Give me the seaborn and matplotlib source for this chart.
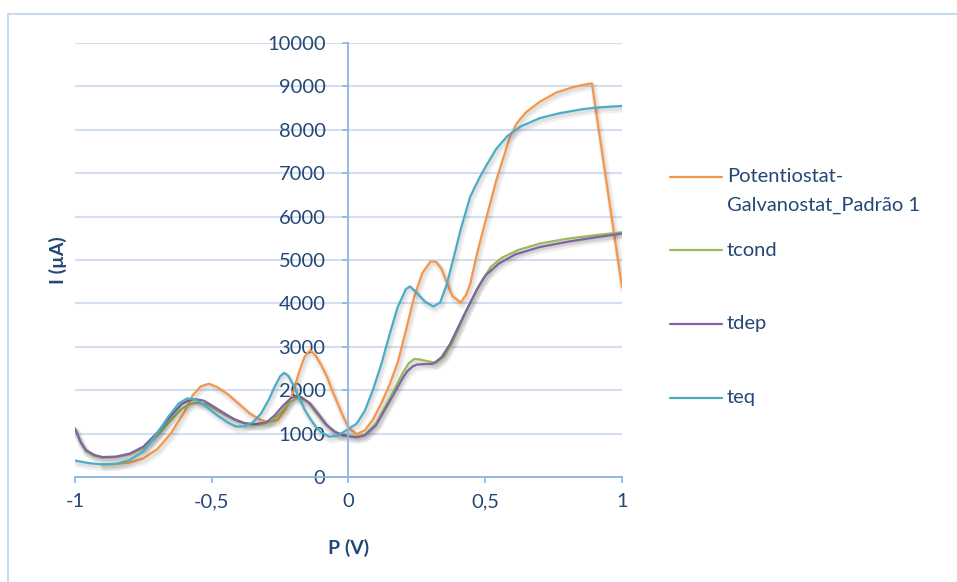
import matplotlib
matplotlib.use("Agg")
import matplotlib.pyplot as plt
import matplotlib.patheffects as pe
from matplotlib.lines import Line2D
from matplotlib.ticker import FuncFormatter
import pandas as pd
import seaborn as sns

# Voltammograms: potential P (V) against current I (µA)
padrao_p = [-0.90, -0.85, -0.80, -0.75, -0.70, -0.65, -0.60, -0.57, -0.54, -0.51,
            -0.48, -0.44, -0.40, -0.36, -0.32, -0.29, -0.26, -0.23, -0.20, -0.18,
            -0.16, -0.14, -0.12, -0.10, -0.08, -0.06, -0.04, -0.02, 0.00, 0.03,
            0.06, 0.09, 0.12, 0.15, 0.18, 0.21, 0.24, 0.27, 0.30, 0.32,
            0.34, 0.36, 0.38, 0.41, 0.43, 0.445, 0.47, 0.49, 0.52, 0.54,
            0.57, 0.59, 0.615, 0.65, 0.70, 0.76, 0.82, 0.86, 0.89, 1.00]
padrao_i = [290, 300, 335, 430, 640, 1000, 1500, 1880, 2090, 2150,
            2070, 1900, 1680, 1460, 1310, 1270, 1310, 1560, 2000, 2440,
            2780, 2920, 2800, 2580, 2330, 2000, 1700, 1400, 1130, 990,
            1080, 1330, 1700, 2130, 2640, 3380, 4150, 4700, 4970, 4960,
            4800, 4470, 4170, 4020, 4200, 4450, 5150, 5640, 6350, 6830,
            7430, 7840, 8150, 8410, 8650, 8860, 8980, 9040, 9070, 4370]

tcond_p = [-1.00, -0.98, -0.96, -0.93, -0.90, -0.85, -0.80, -0.75, -0.70, -0.65,
           -0.61, -0.58, -0.555, -0.52, -0.48, -0.44, -0.40, -0.36, -0.32, -0.28,
           -0.25, -0.22, -0.19, -0.175, -0.15, -0.12, -0.09, -0.06, -0.03, 0.00,
           0.03, 0.06, 0.10, 0.15, 0.20, 0.22, 0.24, 0.26, 0.28, 0.32,
           0.35, 0.38, 0.43, 0.48, 0.52, 0.56, 0.62, 0.70, 0.80, 0.90, 1.00]
tcond_i = [1100, 800, 600, 490, 445, 455, 520, 660, 950, 1310,
           1570, 1680, 1705, 1680, 1530, 1390, 1270, 1210, 1200, 1290,
           1470, 1700, 1810, 1815, 1740, 1500, 1260, 1080, 990, 955,
           935, 980, 1230, 1810, 2420, 2620, 2720, 2710, 2680, 2630,
           2780, 3110, 3820, 4440, 4840, 5050, 5230, 5380, 5490, 5570, 5640]

tdep_p = [-1.00, -0.98, -0.96, -0.93, -0.90, -0.85, -0.80, -0.75, -0.70, -0.65,
          -0.61, -0.58, -0.56, -0.53, -0.50, -0.46, -0.42, -0.38, -0.34, -0.30,
          -0.27, -0.24, -0.21, -0.19, -0.17, -0.14, -0.11, -0.08, -0.05, -0.02,
          0.00, 0.03, 0.06, 0.10, 0.15, 0.20, 0.215, 0.235, 0.25, 0.27, 0.31, 0.34,
          0.37, 0.42, 0.47, 0.50, 0.55, 0.61, 0.70, 0.80, 0.90, 1.00]
tdep_i = [1120, 820, 620, 510, 460, 470, 540, 700, 1020, 1400,
          1680, 1780, 1795, 1760, 1650, 1490, 1340, 1240, 1220, 1260,
          1420, 1640, 1820, 1860, 1830, 1690, 1450, 1200, 1040, 960,
          935, 915, 960, 1190, 1740, 2300, 2440, 2550, 2590, 2600, 2610, 2760,
          3050, 3700, 4330, 4640, 4920, 5130, 5300, 5420, 5520, 5610]

teq_p = [-1.00, -0.95, -0.90, -0.85, -0.80, -0.75, -0.70, -0.66, -0.62, -0.59,
         -0.56, -0.52, -0.48, -0.44, -0.41, -0.38, -0.35, -0.32, -0.29, -0.27,
         -0.25, -0.235, -0.22, -0.20, -0.18, -0.16, -0.14, -0.12, -0.10, -0.07,
         -0.04, -0.02, 0.00, 0.03, 0.06, 0.09, 0.12, 0.15, 0.18, 0.21,
         0.225, 0.25, 0.28, 0.31, 0.335, 0.36, 0.385, 0.41, 0.445, 0.48,
         0.505, 0.54, 0.58, 0.63, 0.70, 0.77, 0.85, 0.90, 0.95, 1.00]
teq_i = [380, 320, 290, 305, 390, 590, 1000, 1380, 1700, 1810,
         1790, 1620, 1420, 1250, 1160, 1170, 1260, 1460, 1800, 2080,
         2320, 2400, 2330, 2100, 1820, 1550, 1340, 1160, 1030, 930,
         950, 1030, 1110, 1230, 1530, 2020, 2600, 3280, 3920, 4330,
         4390, 4240, 4040, 3930, 4020, 4450, 5070, 5700, 6460, 6910,
         7190, 7560, 7850, 8080, 8270, 8380, 8470, 8510, 8530, 8550]

series_names = ["Potentiostat-Galvanostat_Padrão 1", "tcond", "tdep", "teq"]
series_colors = ["#F79646", "#9BBB59", "#8064A2", "#4BACC6"]
y_ticks = list(range(0, 10001, 1000))
x_ticks = [-1, -0.5, 0, 0.5, 1]

TEXT = "#244875"
AXIS = "#8EB4E3"
GRID = "#D3DFF0"
FRAME = "#CCDAEE"

sns.set_theme(style="white")
plt.rcParams["font.family"] = ["Lato", "DejaVu Sans"]
plt.rcParams["axes.unicode_minus"] = False

frames = []
for name, p, i in zip(series_names,
                      [padrao_p, tcond_p, tdep_p, teq_p],
                      [padrao_i, tcond_i, tdep_i, teq_i]):
    frames.append(pd.DataFrame({"P": p, "I": i, "serie": name}))
data = pd.concat(frames, ignore_index=True)

W, H = 957, 582
fig = plt.figure(figsize=(W / 100, H / 100), dpi=100)
ax = fig.add_axes([75 / W, 1 - 477 / H, 547 / W, 434 / H])

sns.lineplot(data=data, x="P", y="I", hue="serie", hue_order=series_names,
             palette=dict(zip(series_names, series_colors)), sort=False,
             estimator=None, legend=False, linewidth=1.6, ax=ax)

# soft drop shadow under each curve
shadow = [pe.SimpleLineShadow(offset=(1.2, -2.2), shadow_color="black",
                              alpha=0.06, linewidth=5),
          pe.SimpleLineShadow(offset=(1.0, -1.8), shadow_color="black",
                              alpha=0.06, linewidth=2.5),
          pe.Normal()]
for line in ax.get_lines():
    line.set_path_effects(shadow)

ax.set_xlim(-1, 1)
ax.set_ylim(0, 10000)
ax.set_xticks(x_ticks)
ax.set_yticks(y_ticks)
ax.xaxis.set_major_formatter(FuncFormatter(lambda v, _: f"{v:g}".replace(".", ",")))
ax.yaxis.set_major_formatter(FuncFormatter(lambda v, _: f"{v:.0f}"))

ax.grid(axis="y", color=GRID, linewidth=1.5)
ax.grid(axis="x", visible=False)
ax.set_axisbelow(True)

for side in ("top", "right"):
    ax.spines[side].set_visible(False)
ax.spines["left"].set_position(("data", 0))
for side in ("left", "bottom"):
    ax.spines[side].set_color(AXIS)
    ax.spines[side].set_linewidth(1.3)
    ax.spines[side].set_zorder(3)

ax.tick_params(axis="y", direction="out", length=4.5, width=1.2, color=AXIS,
               labelcolor=TEXT, labelsize=14.5, pad=12, left=True)
ax.tick_params(axis="x", direction="out", length=4.5, width=1.2, color=AXIS,
               labelcolor=TEXT, labelsize=14.5, pad=7, bottom=True)

ax.set_xlabel("P (V)", fontsize=14, fontweight="bold", color=TEXT)
ax.xaxis.set_label_coords(0.5, (477 - 548) / 434)
ax.xaxis.label.set_va("center")
ax.set_ylabel("I (µA)", fontsize=14, fontweight="bold", color=TEXT)
ax.yaxis.set_label_coords((58 - 75) / 547, 0.5)
ax.yaxis.label.set_va("center")

# legend on the right, one entry per series
entry_y = [177, 250, 324, 398]
for name, color, y in zip(series_names, series_colors, entry_y):
    fig.add_artist(Line2D([670 / W, 722 / W], [1 - y / H, 1 - y / H],
                          transform=fig.transFigure, color=color, linewidth=1.6))
    if name.startswith("Potentiostat"):
        fig.text(727 / W, 1 - y / H, "Potentiostat-", color=TEXT,
                 fontsize=14.5, va="center", ha="left")
        fig.text(727 / W, 1 - (y + 28) / H, "Galvanostat_Padrão 1", color=TEXT,
                 fontsize=14.5, va="center", ha="left")
    else:
        fig.text(727 / W, 1 - y / H, name, color=TEXT, fontsize=14.5,
                 va="center", ha="left")

# chart frame: top and left edges (the rest lies outside the image)
fx, fy = 8 / W, 1 - 14 / H
fig.add_artist(Line2D([fx, 1.0], [fy, fy], transform=fig.transFigure,
                      color=FRAME, linewidth=1.5))
fig.add_artist(Line2D([fx, fx], [0.0, fy], transform=fig.transFigure,
                      color=FRAME, linewidth=1.5))

fig.savefig("out.png", dpi=100, facecolor="white")
